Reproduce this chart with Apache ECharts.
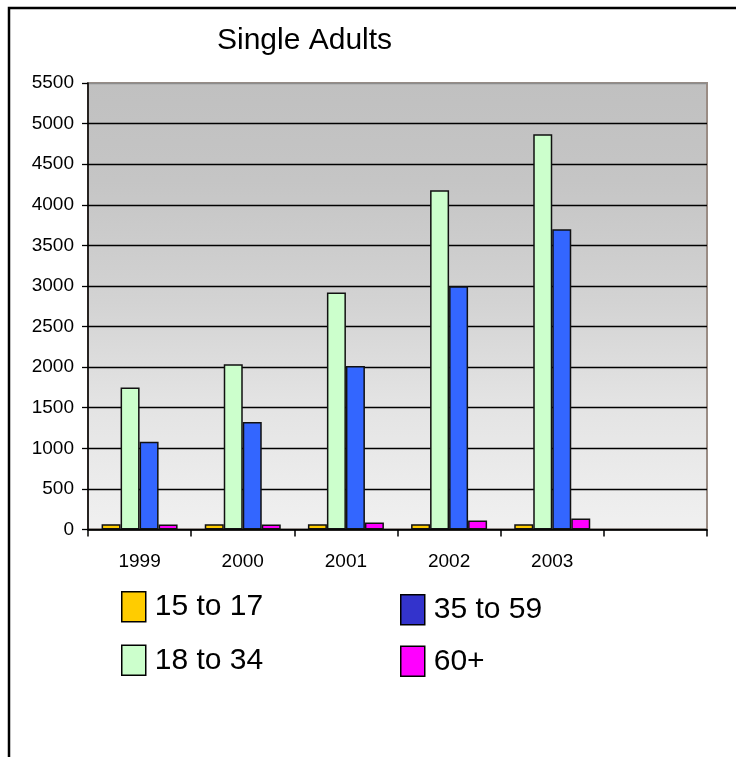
<!DOCTYPE html>
<html>
<head>
<meta charset="utf-8">
<script src="https://cdn.jsdelivr.net/npm/echarts@6/dist/echarts.min.js"></script>
<style>html,body{margin:0;padding:0;background:#fff;}#c{width:736px;height:757px;}</style>
</head>
<body>
<div id="c"></div>
<script>
var categories = ['1999', '2000', '2001', '2002', '2003', ''];
var seriesNames = ['15 to 17', '18 to 34', '35 to 59', '60+'];
var s15to17 = [65, 65, 65, 65, 65];
var s18to34 = [1750, 2035, 2920, 4180, 4870];
var s35to59 = [1080, 1325, 2015, 2995, 3700];
var s60plus = [62, 62, 86, 111, 135];
var yTicks = { min: 0, max: 5500, interval: 500 };

var colors = ['#FFCC00', '#CCFFCC', '#3366FF', '#FF00FF'];
var legendColors = ['#FFCC00', '#CCFFCC', '#3333CC', '#FF00FF'];
var values = [s15to17, s18to34, s35to59, s60plus];
var FONT = "'Liberation Sans', Arial, sans-serif";

var splitColors = [];
for (var i = 0; i < 12; i++) splitColors.push(i === 11 ? '#8c8c8c' : '#000');

var chart = echarts.init(document.getElementById('c'), null, { renderer: 'canvas' });
function legendComp(idx, left, top, gap) {
  return {
    orient: 'vertical', left: left, top: top, itemGap: gap, padding: 0,
    itemWidth: 24, itemHeight: 30, icon: 'rect',
    itemStyle: { borderColor: '#000', borderWidth: 1.5 },
    textStyle: { fontFamily: FONT, fontSize: 30, color: '#000', padding: [0, 0, 0, 4] },
    data: idx.map(function (k) { return { name: seriesNames[k], itemStyle: { color: legendColors[k] } }; })
  };
}
chart.setOption({
  animation: false,
  title: {
    text: 'Single Adults', left: 212, top: 21,
    textStyle: { fontFamily: FONT, fontSize: 30, fontWeight: 'normal', color: '#000' }
  },
  legend: [legendComp([0, 1], 121, 591, 22), legendComp([2, 3], 400, 594, 20)],
  grid: {
    left: 88, right: 29, top: 83, bottom: 227.5, show: true,
    borderColor: '#9a8c84', borderWidth: 2,
    backgroundColor: {
      type: 'linear', x: 0, y: 0, x2: 0, y2: 1,
      colorStops: [
        { offset: 0, color: '#C0C0C0' },
        { offset: 0.22, color: '#C5C5C5' },
        { offset: 0.49, color: '#D3D3D3' },
        { offset: 0.71, color: '#E3E3E3' },
        { offset: 0.9, color: '#ECECEC' },
        { offset: 1, color: '#F0F0F0' }
      ]
    }
  },
  xAxis: {
    type: 'category', data: categories, boundaryGap: true,
    axisLine: { lineStyle: { color: '#000', width: 1.5 } },
    axisTick: { show: true, length: 7, interval: 0, lineStyle: { color: '#000', width: 1.5 } },
    axisLabel: { fontFamily: FONT, fontSize: 19, color: '#000', margin: 23, interval: 0 }
  },
  yAxis: {
    type: 'value', min: yTicks.min, max: yTicks.max, interval: yTicks.interval,
    axisLine: { show: true, lineStyle: { color: '#000', width: 1.5 } },
    axisTick: { show: true, length: 6, lineStyle: { color: '#000', width: 1.3 } },
    axisLabel: { fontFamily: FONT, fontSize: 19, color: '#000', margin: 14,
      formatter: function (v) { return String(v); } },
    splitLine: { show: true, lineStyle: { color: splitColors, width: 1.3 } }
  },
  series: values.map(function (v, k) {
    return {
      name: seriesNames[k], type: 'bar', data: v, barWidth: 19, barGap: '0%',
      itemStyle: { color: colors[k], borderColor: '#111', borderWidth: 1.5 }
    };
  }),
  graphic: [{
    type: 'rect', z: 100, silent: true,
    shape: { x: 9, y: 8, width: 760, height: 800 },
    style: { fill: 'none', stroke: '#000', lineWidth: 2.5 }
  }]
});
</script>
</body>
</html>
